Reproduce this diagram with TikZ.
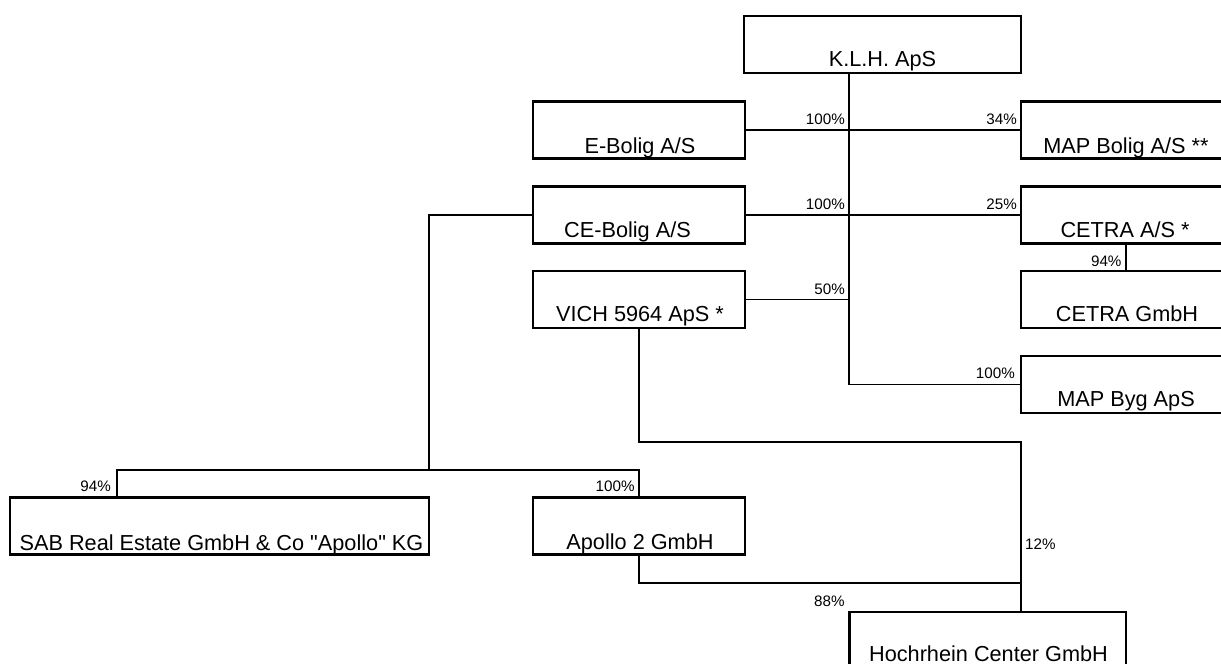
\documentclass[tikz,border=0pt]{standalone}
\usepackage{fontspec}
\setmainfont{Liberation Sans}[Ligatures=TeXOff]
\begin{document}
\begin{tikzpicture}[x=1pt,y=-1pt,
  box/.style={draw, line width=2.4pt, minimum width=#1, minimum height=57pt,
    inner sep=0pt, outer sep=0pt, anchor=north west},
  box/.default=212pt,
  nmtxt/.style={inner sep=0pt, anchor=base, font=\fontsize{21.7pt}{26pt}\selectfont},
  pct/.style={inner sep=0pt, anchor=base east, font=\fontsize{15.2pt}{18pt}\selectfont},
  conn/.style={line width=1.9pt, line cap=rect}]
\useasboundingbox (0,0) rectangle (1221,664);
\fill[white] (0,0) rectangle (1221,664);
\clip (0,0) rectangle (1221,664);

% boxes
\node[box=277pt] (klh) at (744,16) {};
\node[box] (ebolig) at (533,101.5) {};
\node[box] (cebolig) at (533,186.5) {};
\node[box] (vich) at (533,271) {};
\node[box] (mapbolig) at (1021,101.5) {};
\node[box] (cetraas) at (1021,186.5) {};
\node[box] (cetragmbh) at (1021,271) {};
\node[box] (mapbyg) at (1021,356) {};
\node[box=419pt] (sab) at (10,497.5) {};
\node[box] (apollo) at (533,497.5) {};
\node[box=276.5pt] (hoch) at (849.5,612) {};

% texts
\node[nmtxt] (klh-t) at (882.5,66.7) {K.L.H. ApS};
\node[nmtxt] (ebolig-t) at (640,153.3) {E-Bolig A/S};
\node[nmtxt] (cebolig-t) at (627.5,237.7) {CE-Bolig A/S};
\node[nmtxt] (vich-t) at (640,321.7) {VICH 5964 ApS *};
\node[nmtxt] (mapbolig-t) at (1126,153.3) {MAP Bolig A/S **};
\node[nmtxt] (cetraas-t) at (1125,237.7) {CETRA A/S *};
\node[nmtxt] (cetragmbh-t) at (1127,321.7) {CETRA GmbH};
\node[nmtxt] (mapbyg-t) at (1126,406.7) {MAP Byg ApS};
\node[nmtxt] (sab-t) at (221.5,550) {SAB Real Estate GmbH \& Co "Apollo" KG};
\node[nmtxt] (apollo-t) at (640,549) {Apollo 2 GmbH};
\node[nmtxt] (hoch-t) at (988.5,661.7) {Hochrhein Center GmbH};

% junction coordinates
\coordinate (spine) at (849.3,72.5);
\coordinate (vichj) at (849.3,299.5);
\coordinate (cetraout) at (1125.7,244);
\coordinate (cetrain) at (1125.7,271);
\coordinate (celeft) at (429,470);
\coordinate (sabin) at (116.7,497.5);
\coordinate (apj) at (639,470);
\coordinate (vichbend) at (1021,442);
\coordinate (apbend) at (1021,583);
\coordinate (hochin) at (1021,612);

% connectors
\draw[conn] (spine) |- (mapbyg.west);
\draw[conn] (ebolig.east) -- (mapbolig.west);
\draw[conn] (cebolig.east) -- (cetraas.west);
\draw[conn] (vich.east) -- (vichj);
\draw[conn] (cetraout) -- (cetrain);
\draw[conn] (cebolig.west) -| (celeft);
\draw[conn] (sabin) |- (apj) -- (apollo.north);
\draw[conn] (vich.south) |- (vichbend) -- (hochin);
\draw[conn] (apollo.south) |- (apbend);

% percentages
\node[pct] (p1) at (845,124) {100\%};
\node[pct] (p2) at (1017,124) {34\%};
\node[pct] (p3) at (845,209) {100\%};
\node[pct] (p4) at (1017,209) {25\%};
\node[pct] (p5) at (1121.7,266.7) {94\%};
\node[pct] (p6) at (845,294.3) {50\%};
\node[pct] (p7) at (1015,378.3) {100\%};
\node[pct] (p8) at (111,491.7) {94\%};
\node[pct] (p9) at (634.8,491.7) {100\%};
\node[pct, anchor=base west] (p10) at (1025,549) {12\%};
\node[pct] (p11) at (844.8,606) {88\%};
\end{tikzpicture}
\end{document}
